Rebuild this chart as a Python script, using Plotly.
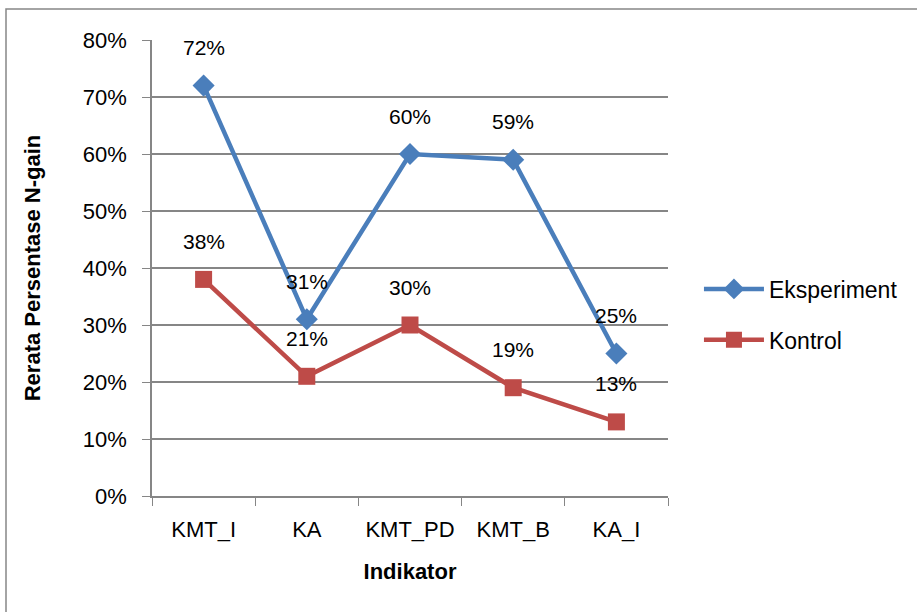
import plotly.graph_objects as go

categories = ["KMT_I", "KA", "KMT_PD", "KMT_B", "KA_I"]
eksperiment = [0.72, 0.31, 0.60, 0.59, 0.25]
kontrol = [0.38, 0.21, 0.30, 0.19, 0.13]
y_ticks = [0, 0.1, 0.2, 0.3, 0.4, 0.5, 0.6, 0.7, 0.8]

BLUE = "#4A7EBB"
RED = "#BE4B48"
GRID = "#868686"
FONT = "Liberation Sans, Arial, sans-serif"

fig = go.Figure()
fig.add_trace(go.Scatter(
    x=categories, y=eksperiment, name="Eksperiment", mode="lines+markers",
    legendgroup="a",
    line=dict(color=BLUE, width=4.5),
    marker=dict(symbol="diamond", size=17, color=BLUE),
))
fig.add_trace(go.Scatter(
    x=categories, y=kontrol, name="Kontrol", mode="lines+markers",
    legendgroup="b",
    line=dict(color=RED, width=4.5),
    marker=dict(symbol="square", size=17, color=RED),
))

for series in (eksperiment, kontrol):
    for c, v in zip(categories, series):
        fig.add_annotation(x=c, y=v, text=f"{round(v*100)}%", showarrow=False,
                           yshift=38, font=dict(size=21, color="black", family=FONT))

L, R, T, B = 152, 249, 40, 116
PW, PH = 917 - L - R, 612 - T - B
fig.add_shape(type="rect", xref="paper", yref="paper",
              x0=(6 - L) / PW, x1=1.6, y0=-0.6, y1=1 + (T - 9) / PH,
              line=dict(color="#868686", width=1.5), layer="below")

fig.update_layout(
    width=917, height=612,
    margin=dict(l=L, r=R, t=T, b=B),
    paper_bgcolor="white", plot_bgcolor="white",
    font=dict(family=FONT, size=22, color="black"),
    showlegend=True,
    legend=dict(x=1.06, y=0.398, xanchor="left", yanchor="middle",
                font=dict(size=23, family=FONT),
                itemwidth=60, tracegroupgap=18),
    xaxis=dict(
        type="category", showgrid=False, showline=True, linecolor=GRID, linewidth=1.5,
        ticks="outside", ticklen=8, tickcolor=GRID, tickson="boundaries",
        range=[-0.5, 4.5], automargin=False, ticklabelstandoff=13,
        title=dict(text="<b>Indikator</b>", standoff=22, font=dict(size=22)),
        tickfont=dict(size=22),
    ),
    yaxis=dict(
        range=[0, 0.8], tickvals=y_ticks, tickformat=".0%",
        showgrid=True, gridcolor=GRID, gridwidth=1.5,
        showline=True, linecolor=GRID, linewidth=1.5,
        ticks="outside", ticklen=8, tickcolor=GRID,
        zeroline=False, automargin=False, ticklabelstandoff=11,
        title=dict(text="<b>Rerata Persentase N-gain</b>", standoff=36, font=dict(size=22)),
        tickfont=dict(size=22),
    ),
)

fig.write_html("out.html", config={"displayModeBar": False},
               post_script="document.body.style.margin='0';")
